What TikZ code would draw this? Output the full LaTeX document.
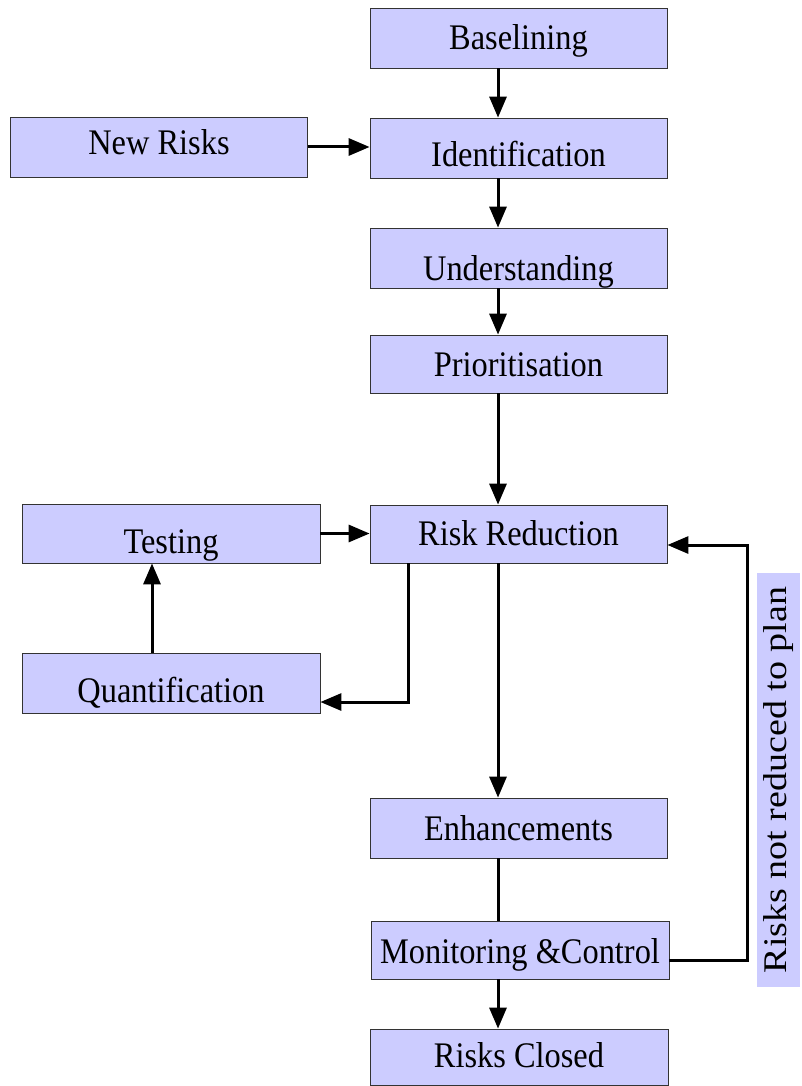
\documentclass[tikz,border=0pt]{standalone}
\usepackage{fontspec}
\usepackage{graphicx}
\setmainfont{Liberation Serif}
\usetikzlibrary{arrows.meta}
\definecolor{boxfill}{HTML}{CCCCFF}
\definecolor{boxline}{HTML}{333333}
\newcommand\bxt[1]{\scalebox{0.9}[1]{\fontsize{36}{40}\selectfont #1}}
\begin{document}
\begin{tikzpicture}[x=1pt,y=-1pt,
  stagebox/.style={draw=boxline,line width=0.8pt,fill=boxfill,minimum width=297pt,minimum height=60pt,inner sep=0pt,text depth=0pt},
  arr/.style={line width=3pt,-{Triangle[length=21pt,width=17pt]}},
  ln/.style={line width=3pt}]
\useasboundingbox (0,0) rectangle (802,1086);
\coordinate (col) at (498,0);
\coordinate (qx) at (408,0);
\coordinate (qcol) at (152,0);
\node[stagebox,text height=24pt] (base) at (518.5,38) {\bxt{Baselining}};
\node[stagebox,text height=37.4pt] (ident) at (518.5,148) {\bxt{Identification}};
\node[stagebox,text height=16pt] (newr) at (159,147) {\bxt{New Risks}};
\node[stagebox,text height=44pt] (under) at (518.5,258) {\bxt{Understanding}};
\node[stagebox,minimum height=58pt,text height=24pt] (prio) at (518.5,364) {\bxt{Prioritisation}};
\node[stagebox,minimum height=58pt,text height=22pt] (rr) at (518.5,534) {\bxt{Risk Reduction}};
\node[stagebox,minimum width=298pt,minimum height=59pt,text height=39pt] (test) at (171,533.5) {\bxt{Testing}};
\node[stagebox,minimum width=298pt,text height=38pt] (quant) at (171,683) {\bxt{Quantification}};
\node[stagebox,text height=24pt] (enh) at (518.5,828) {\bxt{Enhancements}};
\node[stagebox,minimum width=298pt,minimum height=58pt,text height=26pt] (mon) at (520,950) {\bxt{Monitoring \&Control}};
\node[stagebox,minimum width=298pt,minimum height=56pt,text height=20pt] (closed) at (519,1057) {\bxt{Risks Closed}};
\node[fill=boxfill,rotate=90,minimum width=414pt,minimum height=43pt,inner sep=0pt] (lab) at (778.5,780)
  {\scalebox{1}[0.87]{\fontsize{38}{40}\selectfont Risks not reduced to plan}};
\coordinate (r1) at (747,960);
\coordinate (r2) at (747,545);
\draw[arr] (base.south -| col) -- (ident.north -| col);
\draw[arr] (newr.east) -- (ident.west |- newr.east);
\draw[arr] (ident.south -| col) -- (under.north -| col);
\draw[arr] (under.south -| col) -- (prio.north -| col);
\draw[arr] (prio.south -| col) -- (rr.north -| col);
\draw[arr] (test.east) -- (rr.west |- test.east);
\draw[arr] (rr.south -| qx) |- ([yshift=-19pt]quant.east);
\draw[arr] (quant.north -| qcol) -- (test.south -| qcol);
\draw[arr] (rr.south -| col) -- (enh.north -| col);
\draw[ln] (enh.south -| col) -- (mon.north -| col);
\draw[arr] (mon.south -| col) -- (closed.north -| col);
\draw[arr] ([yshift=-10pt]mon.east) -- (r1) -- (r2) -- (rr.east |- r2);
\end{tikzpicture}
\end{document}
